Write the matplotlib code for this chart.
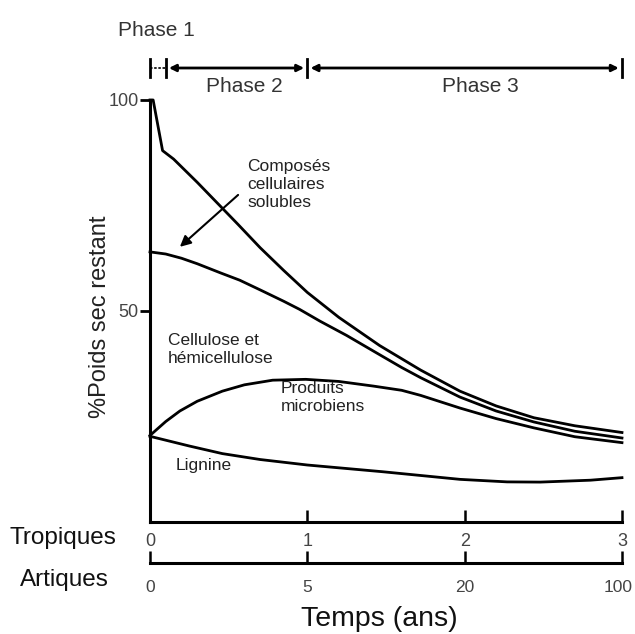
import matplotlib
matplotlib.use("Agg")
import matplotlib.pyplot as plt
from matplotlib.transforms import blended_transform_factory, ScaledTranslation

plt.rcParams['font.family'] = ['Liberation Sans', 'DejaVu Sans']

# ---- data (time in Tropiques years, % dry weight remaining) ----
total_x = [0, 0.02, 0.08, 0.15, 0.30, 0.43, 0.56, 0.70, 0.85, 1.0, 1.2, 1.46, 1.72, 1.97, 2.2, 2.44, 2.7, 3.0]
total_y = [100, 100, 88, 86, 80.5, 75.5, 70.5, 65, 59.6, 54.4, 48.5, 41.8, 36, 31, 27.5, 24.7, 22.8, 21.2]

cell_x = [0, 0.1, 0.2, 0.3, 0.45, 0.57, 0.70, 0.85, 0.95, 1.08, 1.25, 1.42, 1.6, 1.72, 1.97, 2.2, 2.44, 2.7, 3.0]
cell_y = [64, 63.5, 62.5, 61.2, 59.0, 57.3, 55.0, 52.3, 50.4, 47.6, 44.2, 40.5, 36.6, 34.2, 29.6, 26.3, 23.7, 21.5, 19.9]

micro_x = [0, 0.1, 0.19, 0.3, 0.46, 0.6, 0.78, 0.99, 1.2, 1.42, 1.6, 1.72, 1.97, 2.2, 2.44, 2.7, 3.0]
micro_y = [20.5, 23.8, 26.3, 28.6, 31.0, 32.5, 33.6, 33.8, 33.3, 32.2, 31.2, 30.0, 27.0, 24.5, 22.3, 20.2, 18.8]

lig_x = [0, 0.25, 0.46, 0.7, 1.0, 1.48, 1.97, 2.27, 2.48, 2.8, 3.0]
lig_y = [20.3, 18.0, 16.2, 14.8, 13.5, 11.9, 10.1, 9.5, 9.45, 9.9, 10.5]

tick_pos = [0, 1, 2, 3]
tropiques_labels = ['0', '1', '2', '3']
artiques_labels = ['0', '5', '20', '100']
y_ticks = [50, 100]

phase_bounds = [0, 0.1, 1, 3]
phase_labels = ['Phase 1', 'Phase 2', 'Phase 3']

# ---- figure ----
fig = plt.figure(figsize=(6.35, 6.34), dpi=100)
ax = fig.add_axes([0.2362, 0.1767, 0.7433, 0.6656])

for xs, ys in [(total_x, total_y), (cell_x, cell_y), (micro_x, micro_y), (lig_x, lig_y)]:
    ax.plot(xs, ys, color='black', lw=2.0, solid_joinstyle='round', clip_on=False)

ax.set_xlim(0, 3)
ax.set_ylim(0, 100)
for s in ['top', 'right']:
    ax.spines[s].set_visible(False)
for s in ['left', 'bottom']:
    ax.spines[s].set_linewidth(2.2)
ax.set_yticks(y_ticks)
ax.set_yticklabels([str(v) for v in y_ticks])
ax.tick_params(axis='y', direction='out', length=7, width=2, labelsize=13,
               labelcolor='#444444', pad=1)
ax.set_xticks(tick_pos)
ax.set_xticklabels(tropiques_labels)
ax.tick_params(axis='x', direction='in', length=9, width=1.8, labelsize=13,
               labelcolor='#444444', pad=8)

# second (Artiques) axis
ax2 = fig.add_axes([0.2362, 1 - 563 / 634, 0.7433, 0.0001])
ax2.set_xlim(0, 3)
ax2.set_yticks([])
for s in ['top', 'right', 'left']:
    ax2.spines[s].set_visible(False)
ax2.spines['bottom'].set_linewidth(2.2)
ax2.set_xticks(tick_pos)
ax2.set_xticklabels(artiques_labels)
ax2.tick_params(axis='x', direction='in', length=9, width=1.8, labelsize=12.5,
                labelcolor='#444444', pad=12)
ax2.patch.set_visible(False)
last = ax2.get_xticklabels()[-1]
last.set_transform(last.get_transform() + ScaledTranslation(-4 / 100, 0, fig.dpi_scale_trans))

# labels
fig.text(100 / 635, 1 - 317 / 634, '%Poids sec restant', rotation=90,
         ha='center', va='center', fontsize=17, color='#222222')
fig.text(63 / 635, 1 - 538 / 634, 'Tropiques', ha='center', va='center', fontsize=17.5, color='#111111')
fig.text(64 / 635, 1 - 580 / 634, 'Artiques', ha='center', va='center', fontsize=17.5, color='#111111')
fig.text(379 / 635, 1 - 619 / 634, 'Temps (ans)', ha='center', va='center', fontsize=20.5, color='#111111')

# in-plot annotations
ax.text(0.62, 80, 'Composés\ncellulaires\nsolubles', ha='left', va='center',
        fontsize=12.5, color='#222222', linespacing=1.25)
ax.annotate('', xy=(0.19, 65.2), xytext=(0.56, 77.5),
            arrowprops=dict(arrowstyle='-|>', color='black', lw=1.5, mutation_scale=16,
                            shrinkA=0, shrinkB=0))
ax.text(0.115, 40.8, 'Cellulose et\nhémicellulose', ha='left', va='center',
        fontsize=12.5, color='#222222', linespacing=1.25)
ax.text(0.83, 29.6, 'Produits\nmicrobiens', ha='left', va='center',
        fontsize=12.5, color='#222222', linespacing=1.25)
ax.text(0.16, 13.5, 'Lignine', ha='left', va='center', fontsize=12.5, color='#222222')

# phase bar
tr = blended_transform_factory(ax.transData, fig.transFigure)
bar_y = 1 - 68 / 634
for b in phase_bounds:
    ax.plot([b, b], [bar_y - 0.014, bar_y + 0.014], color='black', lw=2,
            transform=tr, clip_on=False)
ax.plot([phase_bounds[0], phase_bounds[1]], [bar_y, bar_y], color='black', lw=1.2,
        ls=(0, (1.5, 1)), transform=tr, clip_on=False)
for a, b in [(phase_bounds[1], phase_bounds[2]), (phase_bounds[2], phase_bounds[3])]:
    ax.annotate('', xy=(b - 0.02, bar_y), xytext=(a + 0.02, bar_y),
                xycoords=tr, textcoords=tr,
                arrowprops=dict(arrowstyle='<|-|>', color='black', lw=2,
                                mutation_scale=10, shrinkA=0, shrinkB=0))
fig.text(118 / 635, 1 - 30 / 634, phase_labels[0], ha='left', va='center',
         fontsize=15, color='#333333')
ax.text(0.6, 1 - 87 / 634, phase_labels[1], ha='center', va='center',
        fontsize=15, color='#333333', transform=tr)
ax.text(2.1, 1 - 87 / 634, phase_labels[2], ha='center', va='center',
        fontsize=15, color='#333333', transform=tr)

fig.savefig('out.png', dpi=100)
